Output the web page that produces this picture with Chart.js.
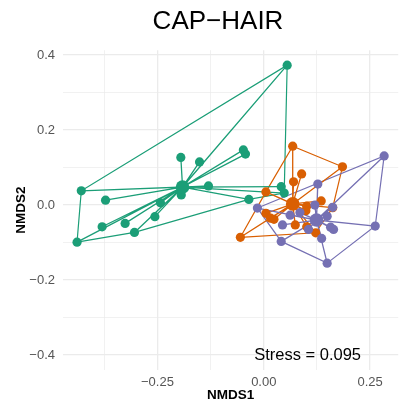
<!DOCTYPE html>
<html>
<head>
<meta charset="utf-8">
<script src="https://cdn.jsdelivr.net/npm/chart.js@4.4.1/dist/chart.umd.min.js"></script>
<style>
html,body{margin:0;padding:0;background:#ffffff;}
canvas{display:block;}
</style>
</head>
<body>
<canvas id="chart" width="405" height="408"></canvas>
<script>
// ---------------- data ----------------
const chartTitle = 'CAP\u2212HAIR';
const xAxisTitle = 'NMDS1';
const yAxisTitle = 'NMDS2';
const stressText = 'Stress = 0.095';
const stressPosition = [0.103, -0.40];

const groupNames = ['Group 1', 'Group 2', 'Group 3'];
const groupColors = ['#1B9E77', '#D95F02', '#7570B3'];

// group 1 (green)
const greenX = [0.055, -0.429, -0.439, -0.372, -0.380, -0.326, -0.304, -0.256, -0.243, -0.195, -0.151, -0.194, -0.130, -0.048, -0.043, -0.035, 0.041, 0.048];
const greenY = [0.373, 0.038, -0.099, 0.013, -0.058, -0.049, -0.073, -0.031, 0.006, 0.127, 0.115, 0.027, 0.051, 0.147, 0.136, 0.015, 0.049, 0.032];
const greenCentroid = [-0.191, 0.048];
const greenHull = [2, 1, 0, 17, 15, 6];

// group 2 (orange)
const orangeX = [0.068, 0.185, 0.089, 0.070, 0.005, -0.055, 0.005, 0.016, 0.024, 0.101, 0.099, 0.135, 0.162, 0.074, 0.101, 0.122];
const orangeY = [0.157, 0.102, 0.083, 0.062, 0.035, -0.086, -0.022, -0.035, -0.038, -0.003, -0.015, 0.011, -0.007, -0.053, -0.058, -0.074];
const orangeCentroid = [0.068, 0.003];
const orangeHull = [5, 4, 0, 1, 12, 15];

// group 3 (purple)
const purpleX = [0.283, 0.127, 0.262, 0.149, 0.041, -0.015, 0.044, 0.062, 0.085, 0.105, 0.136, 0.157, 0.164, 0.149, 0.120, 0.162];
const purpleY = [0.131, 0.056, -0.056, -0.155, -0.097, -0.008, -0.053, -0.027, -0.020, -0.065, -0.089, -0.059, -0.065, -0.030, 0.000, -0.006];
const purpleCentroid = [0.124, -0.040];
const purpleHull = [5, 0, 2, 3, 4];

// axis ticks
const xMajorTicks = [-0.25, 0, 0.25];
const xMajorLabels = ['\u22120.25', '0.00', '0.25'];
const xMinorTicks = [-0.375, -0.125, 0.125];
const yMajorTicks = [-0.4, -0.2, 0, 0.2, 0.4];
const yMajorLabels = ['\u22120.4', '\u22120.2', '0.0', '0.2', '0.4'];
const yMinorTicks = [-0.3, -0.1, 0.1, 0.3];

// ---------------- build datasets ----------------
const groups = [
  {xs: greenX, ys: greenY, c: greenCentroid, hull: greenHull},
  {xs: orangeX, ys: orangeY, c: orangeCentroid, hull: orangeHull},
  {xs: purpleX, ys: purpleY, c: purpleCentroid, hull: purpleHull}
];

const layers = []; // bottom -> top
groups.forEach((g, i) => {
  const pts = g.hull.map(k => ({x: g.xs[k], y: g.ys[k]}));
  pts.push(pts[0]);
  layers.push({label: groupNames[i] + ' hull', data: pts, showLine: true, borderColor: groupColors[i], borderWidth: 1.2, pointRadius: 0, fill: false, tension: 0});
});
groups.forEach((g, i) => {
  const pts = [];
  g.xs.forEach((x, k) => { pts.push({x: g.c[0], y: g.c[1]}); pts.push({x: x, y: g.ys[k]}); });
  pts.push({x: g.c[0], y: g.c[1]});
  layers.push({label: groupNames[i] + ' spider', data: pts, showLine: true, borderColor: groupColors[i], borderWidth: 1.3, pointRadius: 0, fill: false, tension: 0});
});
groups.forEach((g, i) => {
  layers.push({label: groupNames[i], data: g.xs.map((x, k) => ({x: x, y: g.ys[k]})), showLine: false, backgroundColor: groupColors[i], borderWidth: 0, pointRadius: 4.6});
});
groups.forEach((g, i) => {
  layers.push({label: groupNames[i] + ' centroid', data: [{x: g.c[0], y: g.c[1]}], showLine: false, backgroundColor: groupColors[i], borderWidth: 0, pointRadius: 6.8});
});
const N = layers.length;
layers.forEach((d, i) => { d.order = N - i; });

// ---------------- helpers ----------------
const near = (a, b) => Math.abs(a - b) < 1e-9;
const labelFor = (v, vals, labels) => { const i = vals.findIndex(t => near(t, v)); return i >= 0 ? labels[i] : ''; };
const isMajor = (v, vals) => vals.some(t => near(t, v));
const FONT = '"Liberation Sans", Arial, Helvetica, sans-serif';

const titleShift = {
  id: 'titleShift',
  afterLayout(chart) {
    const t = chart.titleBlock;
    if (t) { t.left = 31; t.right = 405; }
  }
};
const stressLabel = {
  id: 'stressLabel',
  afterDatasetsDraw(chart) {
    const {ctx, scales} = chart;
    ctx.save();
    ctx.font = '16.5px ' + FONT;
    ctx.fillStyle = '#000000';
    ctx.textAlign = 'center';
    ctx.textBaseline = 'middle';
    ctx.fillText(stressText, scales.x.getPixelForValue(stressPosition[0]), scales.y.getPixelForValue(stressPosition[1]));
    ctx.restore();
  }
};

new Chart(document.getElementById('chart'), {
  type: 'scatter',
  data: {datasets: layers},
  options: {
    responsive: false,
    animation: false,
    devicePixelRatio: 1,
    layout: {padding: 0},
    plugins: {
      legend: {display: false},
      tooltip: {enabled: false},
      title: {
        display: true,
        text: chartTitle,
        color: '#000000',
        font: {family: FONT, size: 26, weight: 'normal', lineHeight: 1.2},
        padding: {top: 6, bottom: 13}
      }
    },
    scales: {
      x: {
        type: 'linear',
        min: -0.472,
        max: 0.316,
        afterBuildTicks(scale) {
          scale.ticks = xMajorTicks.concat(xMinorTicks).sort((a, b) => a - b).map(v => ({value: v}));
        },
        afterFit(scale) { scale.height = 38; },
        border: {display: false},
        grid: {
          color: '#EBEBEB',
          drawTicks: false,
          lineWidth: ctx => (ctx.tick && isMajor(ctx.tick.value, xMajorTicks)) ? 1.3 : 0.7
        },
        ticks: {
          autoSkip: false,
          maxRotation: 0,
          padding: 5,
          color: '#555555',
          font: {family: FONT, size: 13},
          callback: v => labelFor(v, xMajorTicks, xMajorLabels)
        },
        title: {
          display: true,
          text: xAxisTitle,
          color: '#000000',
          font: {family: FONT, size: 13.5, weight: 'bold', lineHeight: 1.2},
          padding: {top: 0, bottom: 5}
        }
      },
      y: {
        type: 'linear',
        min: -0.44,
        max: 0.413,
        afterBuildTicks(scale) {
          scale.ticks = yMajorTicks.concat(yMinorTicks).sort((a, b) => a - b).map(v => ({value: v}));
        },
        afterFit(scale) { scale.width = 63; },
        border: {display: false},
        grid: {
          color: '#EBEBEB',
          drawTicks: false,
          lineWidth: ctx => (ctx.tick && isMajor(ctx.tick.value, yMajorTicks)) ? 1.3 : 0.7
        },
        ticks: {
          autoSkip: false,
          padding: 8,
          color: '#555555',
          font: {family: FONT, size: 13},
          callback: v => labelFor(v, yMajorTicks, yMajorLabels)
        },
        title: {
          display: true,
          text: yAxisTitle,
          color: '#000000',
          font: {family: FONT, size: 13.5, weight: 'bold', lineHeight: 1.2},
          padding: {top: 13, bottom: 0}
        }
      }
    }
  },
  plugins: [titleShift, stressLabel]
});
</script>
</body>
</html>
